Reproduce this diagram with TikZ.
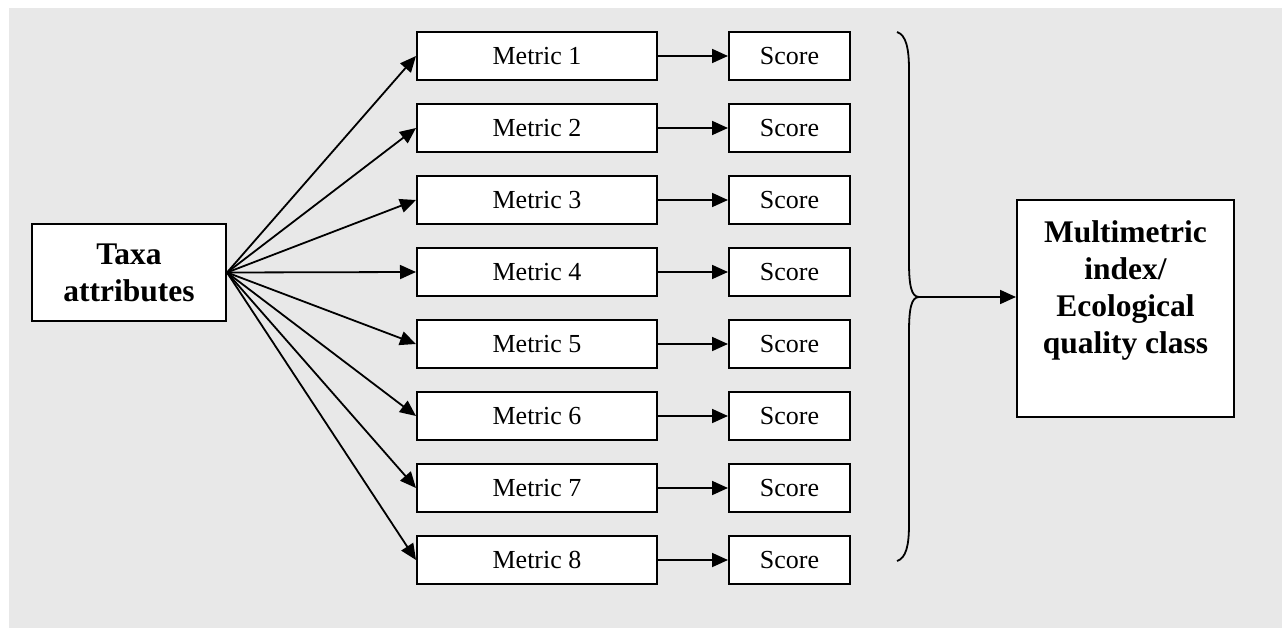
\documentclass[tikz,border=0pt]{standalone}
\usepackage{fontspec}
\setmainfont{Liberation Serif}
\usetikzlibrary{arrows.meta}
\definecolor{panelgray}{RGB}{232,232,232}

\tikzset{
  box/.style={draw, line width=2pt, fill=white, inner sep=0pt, font=\fontsize{26}{31}\selectfont},
  boldbox/.style={box, align=center, font=\fontsize{31.5}{37}\selectfont\bfseries},
  idxtext/.style={align=center, inner sep=0pt, anchor=north, yshift=-21pt, font=\fontsize{31.5}{37}\selectfont\bfseries},
  link/.style={line width=1.8pt, -{Triangle[length=16pt,width=14pt]}},
}

\begin{document}
\begin{tikzpicture}[x=1pt,y=-1pt]
  \useasboundingbox (0,0) rectangle (1282,628);
  \fill[panelgray] (9,8) rectangle (1282,628);

  % source
  \node[boldbox, minimum width=194pt, minimum height=97pt] (taxa) at (129,272.5) {Taxa\\attributes};

  % metrics and their scores
  \foreach \i in {1,...,8}{
    \node[box, minimum width=240pt, minimum height=48pt] (metric\i) at (537,{56+72*(\i-1)}) {Metric \i};
    \node[box, minimum width=121pt, minimum height=48pt] (score\i) at (789.5,{56+72*(\i-1)}) {Score};
    \draw[link] (taxa.east) -- (metric\i.west);
    \draw[link] (metric\i.east) -- (score\i.west);
  }

  % result
  \node[box, minimum width=217pt, minimum height=217pt,
        label={[idxtext]north:{Multimetric\\index/\\Ecological\\quality class}}] (index) at (1125.5,308.5) {};

  % brace
  \coordinate (tip) at (919,297);
  \draw[line width=1.8pt] (897,32) .. controls (906,35) and (909,48) .. (909,70)
    -- (909,262) .. controls (909,284) and (911,297) .. (tip)
    .. controls (911,297) and (909,310) .. (909,332)
    -- (909,524) .. controls (909,546) and (906,558) .. (897,561);
  \draw[link] (tip) -- (tip -| index.west);
\end{tikzpicture}
\end{document}
